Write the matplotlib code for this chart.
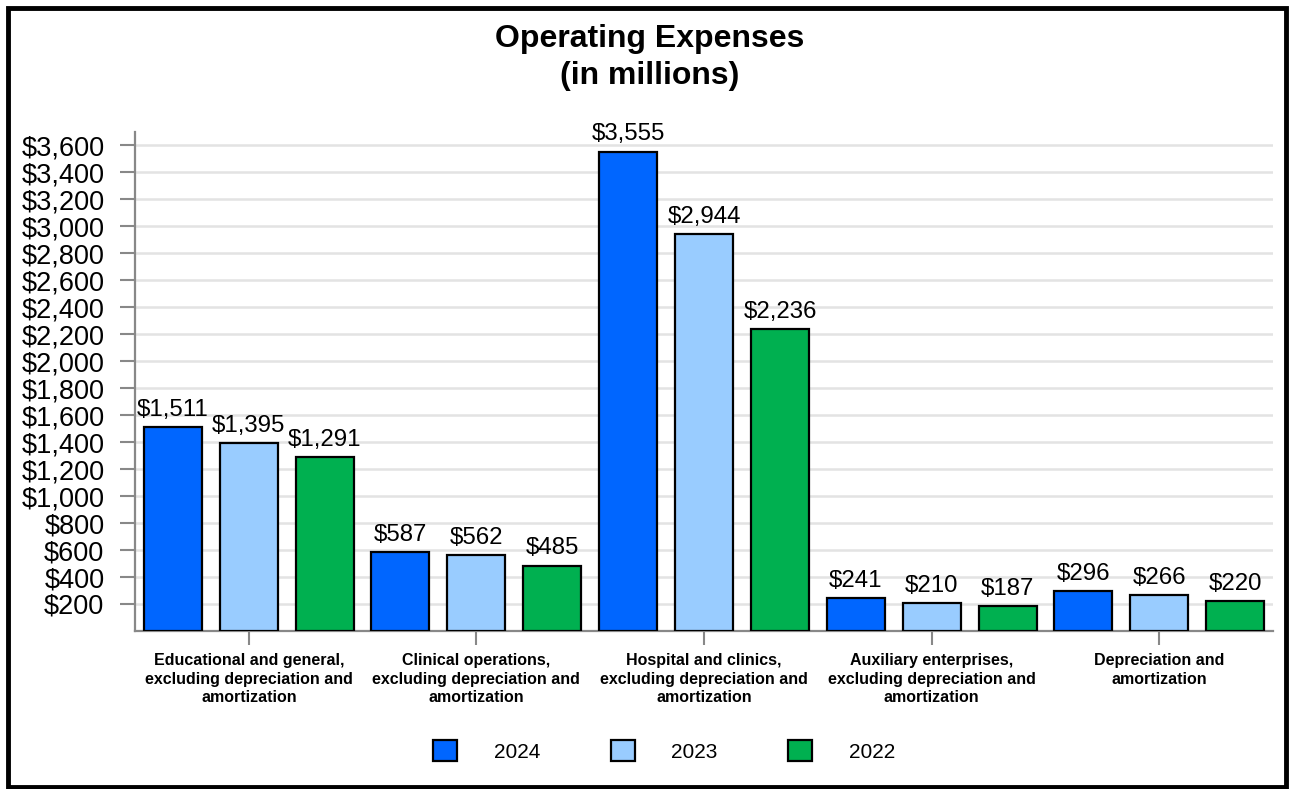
import matplotlib
matplotlib.use("Agg")
from matplotlib import pyplot as plt
from matplotlib.patches import Rectangle, Patch
import numpy as np

# Chart data
categories = [
    "Educational and general,\nexcluding depreciation and\namortization",
    "Clinical operations,\nexcluding depreciation and\namortization",
    "Hospital and clinics,\nexcluding depreciation and\namortization",
    "Auxiliary enterprises,\nexcluding depreciation and\namortization",
    "Depreciation and\namortization",
]
years = ["2024", "2023", "2022"]
values_2024 = [1511, 587, 3555, 241, 296]
values_2023 = [1395, 562, 2944, 210, 266]
values_2022 = [1291, 485, 2236, 187, 220]
y_ticks = list(range(200, 3601, 200))

colors = ["#0066FF", "#99CCFF", "#00B050"]
series = [values_2024, values_2023, values_2022]

plt.rcParams["font.family"] = ["Liberation Sans", "DejaVu Sans"]
fig = plt.figure(figsize=(12.92, 7.89), dpi=100)
ax = fig.add_axes([0.1045, 0.2003, 0.8808, 0.6324])

x = np.arange(len(categories))
width = 0.255
offsets = [-0.334, 0, 0.334]

for vals, off, col, yr in zip(series, offsets, colors, years):
    bars = ax.bar(x + off, vals, width, color=col, edgecolor="black", linewidth=1.6, label=yr, zorder=3)
    for b, v in zip(bars, vals):
        ax.text(b.get_x() + b.get_width() / 2, v + 45, "${:,}".format(v),
                ha="center", va="bottom", fontsize=17.3, zorder=4)

ax.set_xlim(-0.5, 4.5)
ax.set_ylim(0, 3700)
ax.set_yticks(y_ticks)
ax.set_yticklabels(["${:,}".format(t) for t in y_ticks], fontsize=19.5)
ax.set_xticks(x)
ax.set_xticklabels(categories, fontsize=11.5, fontweight="bold", linespacing=1.3)
ax.tick_params(axis="y", length=11, width=1.5, color="#888888", pad=11)
ax.tick_params(axis="x", length=10, width=1.5, color="#888888", pad=6)
ax.grid(axis="y", color="#e3e3e3", linewidth=1.8, zorder=0)
for s in ["top", "right"]:
    ax.spines[s].set_visible(False)
for s in ["left", "bottom"]:
    ax.spines[s].set_color("#888888")
    ax.spines[s].set_linewidth(1.6)

fig.text(0.503, 0.969, "Operating Expenses\n(in millions)", ha="center", va="top",
         fontsize=23, fontweight="bold", linespacing=1.28)

handles = [Patch(facecolor=c, edgecolor="black", linewidth=1.6) for c in colors]
fig.legend(handles, years, loc="center", bbox_to_anchor=(0.514, 0.048), ncol=3, frameon=False,
           fontsize=15, handlelength=1.15, handleheight=1.15, handletextpad=1.75, columnspacing=3.4)

# outer frame
fig.patches.append(Rectangle((0.006, 0.002), 0.989, 0.988, transform=fig.transFigure,
                             fill=False, edgecolor="black", linewidth=3.5))

fig.savefig("out.png", dpi=100)
